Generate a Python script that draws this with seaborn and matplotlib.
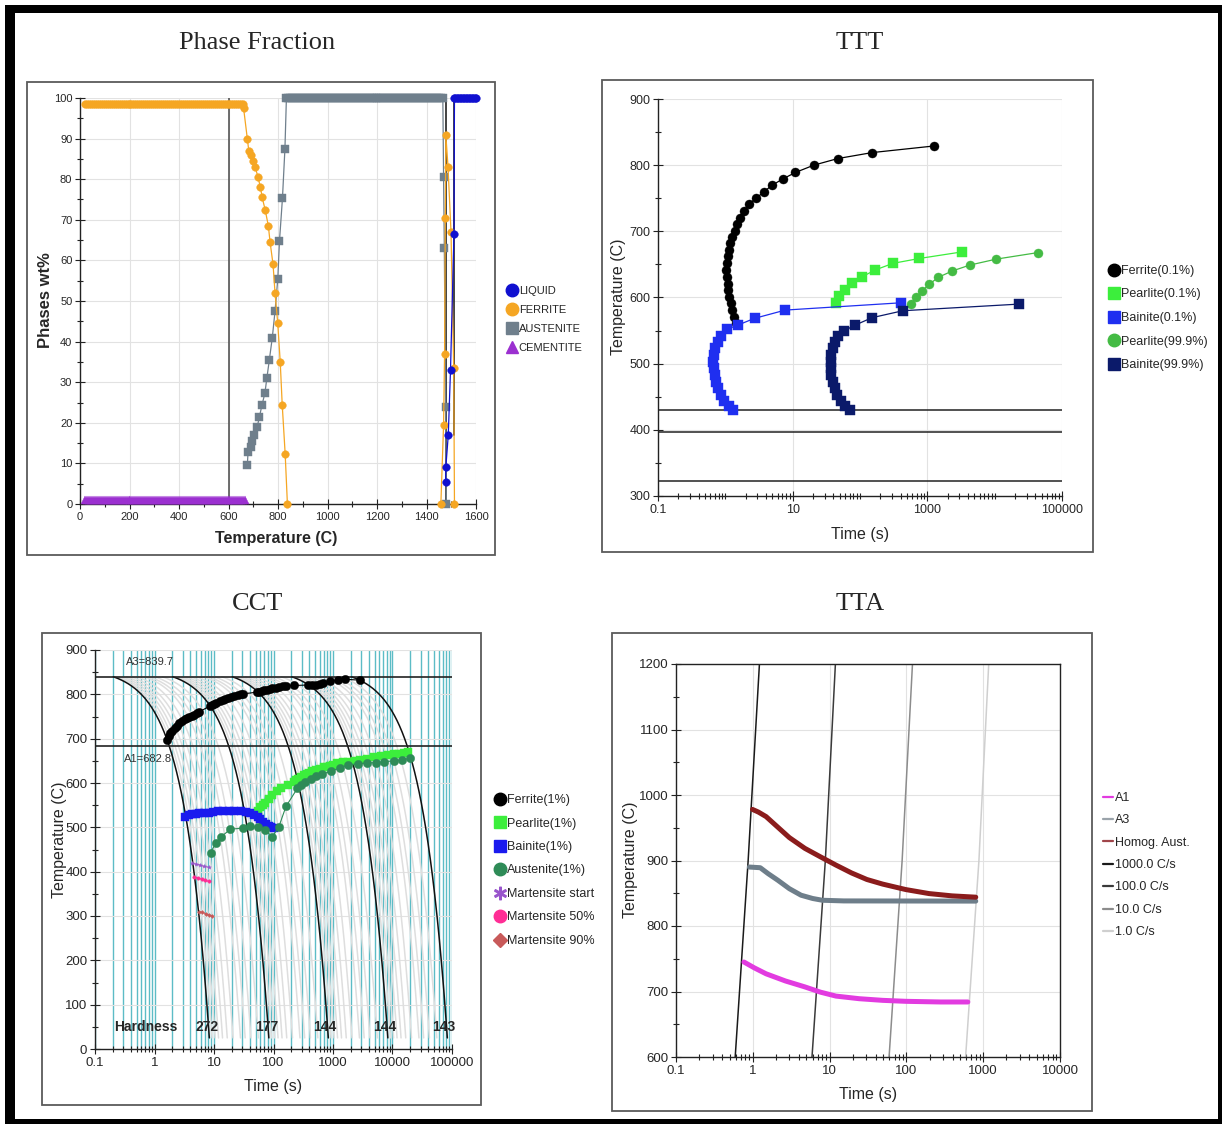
import numpy as np
import matplotlib
matplotlib.use("Agg")
import matplotlib.pyplot as plt
import seaborn as sns
from matplotlib import font_manager
from matplotlib.lines import Line2D
from matplotlib.patches import Rectangle
from matplotlib.ticker import (MultipleLocator, LogLocator, FixedLocator, NullFormatter,
                               FuncFormatter)

W, H = 1222, 1124

# -------------------------------
# Phase fraction (wt% vs temperature)
# -------------------------------
flat_T = list(range(20, 661, 8))
ferrite_T = flat_T + [661, 676, 682, 690, 699, 708, 719, 729, 736, 748, 761, 768,
                      780, 788, 799, 809, 817, 829, 838]
ferrite_wt = [98.6] * len(flat_T) + [97.5, 90, 87, 86, 84.5, 83, 80.5, 78, 75.5, 72.5,
                                     68.5, 64.5, 59, 52, 44.5, 35, 24.5, 12.3, 0]
ferrite_hi_T = [1458, 1469, 1473, 1476, 1478, 1487, 1499, 1510, 1513]
ferrite_hi_wt = [0, 19.5, 37, 70.5, 91, 83, 67, 33.5, 0]

aus_flat_T = list(range(834, 1469, 8))
aus_T = [676, 679, 689, 696, 703, 716, 725, 735, 747, 755, 765, 777, 788, 799, 806,
         818, 828] + aus_flat_T + [1469, 1472, 1477, 1480]
aus_wt = [9.5, 12.8, 14, 15.5, 17, 19, 21.5, 24.3, 27.3, 31, 35.5, 41, 47.5, 55.3,
          64.8, 75.3, 87.5] + [100] * len(aus_flat_T) + [80.5, 63, 24, 0]

liq_flat_T = list(range(1516, 1601, 6))
liq_T = [1477, 1478, 1488, 1497, 1511, 1513] + liq_flat_T
liq_wt = [5.3, 9, 17, 33, 66.5, 100] + [100] * len(liq_flat_T)

cem_T = list(range(20, 676, 8))
cem_wt = [1.0] * len(cem_T)

pf_vline_T = [600, 1477, 1512]
pf_vline_lo = [0, 0, 17]
pf_vline_hi = [100, 100, 100]
pf_vline_col = ["#555555", "#222222", "#222222"]

# -------------------------------
# TTT
# -------------------------------
ttt_ferrite_t = [1254, 151, 46.8, 20.6, 11.0, 7.08, 4.92, 3.71, 2.87, 2.25, 1.89, 1.65,
                 1.50, 1.37, 1.26, 1.18, 1.13, 1.09, 1.06, 1.04, 1.06, 1.08, 1.11, 1.15,
                 1.20, 1.26, 1.35, 1.46]
ttt_ferrite_T = [829, 819, 810, 800, 789, 779, 769.5, 759.5, 750, 741, 730, 720.5, 711,
                 701, 692, 682, 672, 662, 652, 642, 631, 621, 611, 601, 592, 581, 571, 562]
ttt_pearl1_t = [43.7, 49.3, 60.4, 75.9, 106, 168, 308, 762, 3311]
ttt_pearl1_T = [592, 602, 612, 622, 631, 641.6, 651.6, 659, 669]
ttt_bain1_t = [1.29, 1.12, 0.964, 0.853, 0.788, 0.736, 0.697, 0.669, 0.661, 0.669, 0.706,
               0.766, 0.877, 1.06, 1.55, 2.72, 7.78, 405]
ttt_bain1_T = [430, 436, 443, 453, 463, 473, 483, 493, 503, 513, 523, 533, 542, 552,
               558.5, 568.5, 581, 592]
ttt_pearl9_t = [574, 684, 837, 1067, 1455, 2333, 4275, 10550, 44668]
ttt_pearl9_T = [590, 600, 610, 620, 630.5, 640, 649, 658, 668]
ttt_bain9_t = [70.0, 60.4, 52.7, 46.1, 42.0, 39.2, 37.7, 36.7, 36.7, 37.7, 39.2, 42.0,
               47.4, 58.7, 85.7, 151, 433, 22750]
ttt_bain9_T = [430, 436, 444, 453, 463, 473, 483, 493, 503, 513, 523, 533, 542, 550,
               558.5, 569.5, 580, 590]
ttt_hlines = [430, 397, 322]
ttt_xticks = [0.1, 10, 1000, 100000]

# -------------------------------
# CCT
# -------------------------------
A3, A1 = 839.7, 682.8
cct_start_T, cct_room_T = 860, 25
cct_black_rates = [100, 10, 1, 0.1, 0.01]
cct_gray_fracs = [0.9, 0.8, 0.7, 0.6, 0.5, 0.4, 0.3, 0.25, 0.2, 0.15]
hardness_t = [7.6, 77, 730, 7400, 73000]
hardness_vals = ["272", "177", "144", "144", "143"]

cct_ferrite_t = [1.62, 1.75, 1.85, 2.0, 2.2, 2.4, 2.6, 2.9, 3.2, 3.5, 3.8, 4.2, 4.6, 5.1,
                 5.7, 8.7, 9.3, 10, 11, 12.5, 14, 15.4, 17, 19, 22, 25, 28, 31, 53, 58,
                 63, 70, 78, 86, 95, 110, 125, 145, 165, 220, 380, 450, 510, 600, 680,
                 900, 1200, 1600, 2800]
cct_ferrite_T = [697, 705, 712, 717, 723, 729, 735, 740, 744, 747, 750, 751, 753, 757,
                 761, 774, 776, 778, 781, 785, 788, 790, 792, 795, 797, 798, 800, 801,
                 805, 806, 808, 809, 810, 812, 814, 815, 817, 818, 819, 820, 821, 821,
                 822, 823, 825, 829, 832, 834, 832]
cct_pearl_t = [54, 60, 66, 72, 85, 96, 115, 136, 175, 221, 240, 260, 293, 330, 360, 400,
               449, 520, 600, 700, 785, 900, 1000, 1190, 1500, 1810, 2300, 2800, 3700,
               4880, 6500, 8450, 10500, 12800, 15500, 18000]
cct_pearl_T = [536, 545, 550, 554, 565, 573, 581, 588, 596, 603, 606, 609, 614, 617, 620,
               623, 626, 629, 632, 635, 637, 639, 641, 645, 647, 648, 650, 652, 655,
               658, 660, 663, 665, 666, 668, 669]
cct_bain_t = [3.27, 3.8, 4.3, 5.0, 5.7, 6.8, 8.1, 9.7, 11.6, 14, 17.7, 22, 28.8, 35,
              40.9, 47, 54.3, 60, 67, 75, 83, 92, 103]
cct_bain_T = [524, 527, 530, 531, 532, 533, 533, 534, 536, 536, 536, 536, 536, 534,
              532, 528, 524, 519, 513, 508, 503, 500, 498]
cct_aus_t = [8.74, 10.7, 13.3, 18.9, 30.8, 40.9, 54.3, 71.6, 95.6, 122, 162, 252, 290,
             333, 420, 510, 650, 910, 1300, 1810, 2600, 3700, 5200, 7300, 10500, 14700,
             19600]
cct_aus_T = [443, 464, 479, 496, 498, 502, 500, 494, 479, 500, 547, 588, 596, 603, 609,
             615, 620, 626, 634, 641, 643, 645, 646, 648, 650, 652, 656]
cct_ms_t = [4.3, 5.0, 5.8, 6.8, 8.1]
cct_ms_T = [419, 417, 415, 412, 410]
cct_m50_t = [4.6, 5.3, 6.2, 7.1, 8.1]
cct_m50_T = [388, 386, 383, 381, 378]
cct_m90_t = [5.7, 6.4, 7.3, 8.3, 9.4]
cct_m90_T = [310, 308, 305, 302, 300]

# -------------------------------
# TTA
# -------------------------------
tta_A1_t = [0.767, 1.05, 1.49, 2.67, 4.77, 7.6, 12.1, 24.3, 49, 98.4, 280, 631]
tta_A1_T = [745, 736, 727, 716, 707, 699, 693, 689, 686.5, 685, 684, 684]
tta_A3_t = [0.90, 1.25, 1.58, 2.11, 2.99, 4.25, 6.02, 8.05, 15.3, 800]
tta_A3_T = [890, 889, 880, 870, 857, 847, 842, 839.3, 838.3, 838]
tta_hom_t = [0.99, 1.18, 1.49, 2.11, 2.99, 4.77, 7.6, 12.1, 19.3, 30.6, 49, 98.4, 197,
             393, 800]
tta_hom_T = [978, 974, 967, 951, 935, 918.5, 905.6, 893, 881, 871, 864, 855.6, 849.5,
             846, 844]
tta_rate_labels = ["1000.0 C/s", "100.0 C/s", "10.0 C/s", "1.0 C/s"]
tta_rate_colors = ["#1a1a1a", "#3a3a3a", "#8c8c8c", "#cfcfcf"]
tta_heat_t = [[0.59, 0.87, 1.22], [5.9, 8.8, 11.9], [59.5, 88, 120], [590, 880, 1180]]
tta_heat_T = [600, 900, 1200]

# -------------------------------
# Style
# -------------------------------
sns.set_theme(style="white")
names = {f.name for f in font_manager.fontManager.ttflist}
NARROW = "Liberation Sans Narrow" if "Liberation Sans Narrow" in names else "Liberation Sans"
plt.rcParams["font.family"] = ["Liberation Sans", "DejaVu Sans"]

fig = plt.figure(figsize=(W / 100, H / 100), dpi=100)


def px_axes(x0, y0, x1, y1):
    return fig.add_axes([x0 / W, 1 - y1 / H, (x1 - x0) / W, (y1 - y0) / H])


def ftext(x, y, s, **kw):
    fig.text(x / W, 1 - y / H, s, ha="center", va="center", **kw)


def series(ax, x, y, color, marker, ms, lw=0.9, z=3, **kw):
    sns.lineplot(x=x, y=y, ax=ax, color=color, marker=marker, markersize=ms,
                 markeredgecolor=color, markeredgewidth=0.3, linewidth=lw,
                 sort=False, estimator=None, zorder=z, **kw)


def style_axes(ax, fs, box=False):
    for side in ["top", "right"]:
        ax.spines[side].set_visible(box)
    for sp in ax.spines.values():
        sp.set_color("#222222")
        sp.set_linewidth(1.0)
    ax.tick_params(which="both", direction="inout", color="#222222", width=0.8,
                   labelsize=fs, pad=2, bottom=True, left=True)
    ax.tick_params(which="major", length=7)
    ax.tick_params(which="minor", length=5)
    for lab in ax.get_xticklabels() + ax.get_yticklabels():
        lab.set_family(NARROW)
    ax.set_xlabel("")
    ax.set_ylabel("")


def log_axis(ax, majors=None):
    ax.set_xscale("log")
    if majors is None:
        ax.xaxis.set_major_locator(LogLocator(base=10, numticks=20))
    else:
        ax.xaxis.set_major_locator(FixedLocator(majors))
    ax.xaxis.set_minor_locator(LogLocator(base=10, subs=np.arange(1, 10), numticks=100))
    ax.xaxis.set_minor_formatter(NullFormatter())
    ax.xaxis.set_major_formatter(FuncFormatter(lambda v, p: f"{v:g}"))


def legend(ax, handles, labels, x, y, fs, spacing, hl=0.9):
    leg = ax.legend(handles, labels, loc="upper left", bbox_to_anchor=(x / W, 1 - y / H),
                    bbox_transform=fig.transFigure, frameon=False, borderpad=0,
                    borderaxespad=0, handlelength=hl, handletextpad=0.15,
                    labelspacing=spacing, prop={"family": NARROW, "size": fs})
    return leg


def mk(marker, color, ms=9):
    return Line2D([], [], marker=marker, color=color, ls="", markersize=ms,
                  markeredgecolor=color)


grid_col = "#e2e2e2"

# -------------------------------
# 1. Phase Fraction
# -------------------------------
ax1 = px_axes(80, 98, 476, 504)
ax1.set_xlim(0, 1600)
ax1.set_ylim(0, 100)
ax1.xaxis.set_major_locator(MultipleLocator(200))
ax1.xaxis.set_minor_locator(MultipleLocator(100))
ax1.yaxis.set_major_locator(MultipleLocator(10))
ax1.yaxis.set_minor_locator(MultipleLocator(5))
ax1.grid(True, which="major", color=grid_col, lw=0.8)
ax1.set_axisbelow(True)
for xv, lo, hi, c in zip(pf_vline_T, pf_vline_lo, pf_vline_hi, pf_vline_col):
    ax1.plot([xv, xv], [lo, hi], color=c, lw=1.2, zorder=2)
series(ax1, cem_T, cem_wt, "#9b30d0", "^", 5.5, clip_on=False)
series(ax1, aus_T, aus_wt, "#6f7f8c", "s", 5.5, clip_on=False)
series(ax1, ferrite_T, ferrite_wt, "#f5a623", "o", 5.5, clip_on=False)
series(ax1, ferrite_hi_T, ferrite_hi_wt, "#f5a623", "o", 5.5, clip_on=False)
series(ax1, liq_T, liq_wt, "#1010d0", "o", 5.5, clip_on=False)
style_axes(ax1, 8)
legend(ax1, [mk("o", "#1010d0"), mk("o", "#f5a623"), mk("s", "#6f7f8c"), mk("^", "#9b30d0")],
       ["LIQUID", "FERRITE", "AUSTENITE", "CEMENTITE"], 507, 286, 8, 0.8)
ftext(276, 538, "Temperature (C)", fontsize=11.5, fontweight="bold")
ftext(45, 300, "Phases wt%", fontsize=12, fontweight="bold", rotation=90)

# -------------------------------
# 2. TTT
# -------------------------------
ax2 = px_axes(658, 99, 1062, 496)
log_axis(ax2, ttt_xticks)
ax2.set_xlim(0.1, 1e5)
ax2.set_ylim(300, 900)
ax2.yaxis.set_major_locator(MultipleLocator(100))
ax2.yaxis.set_minor_locator(MultipleLocator(50))
ax2.grid(True, which="major", color=grid_col, lw=0.8)
ax2.set_axisbelow(True)
for yv in ttt_hlines:
    ax2.axhline(yv, color="#222222", lw=1.1, zorder=2)
series(ax2, ttt_ferrite_t, ttt_ferrite_T, "#000000", "o", 6.5)
series(ax2, ttt_pearl1_t, ttt_pearl1_T, "#3cee3c", "s", 6.5)
series(ax2, ttt_bain1_t, ttt_bain1_T, "#1f2ff0", "s", 6.5)
series(ax2, ttt_pearl9_t, ttt_pearl9_T, "#44bb44", "o", 6.5)
series(ax2, ttt_bain9_t, ttt_bain9_T, "#0b1a6a", "s", 6.5)
style_axes(ax2, 9)
legend(ax2, [mk("o", "#000000"), mk("s", "#3cee3c"), mk("s", "#1f2ff0"), mk("o", "#44bb44"),
             mk("s", "#0b1a6a")],
       ["Ferrite(0.1%)", "Pearlite(0.1%)", "Bainite(0.1%)", "Pearlite(99.9%)", "Bainite(99.9%)"],
       1108, 265, 9, 0.92)
ftext(618, 297, "Temperature (C)", fontsize=11.5, rotation=90)
ftext(860, 534, "Time (s)", fontsize=11.5)

# -------------------------------
# 3. CCT
# -------------------------------
ax3 = px_axes(95, 650, 452, 1049)
log_axis(ax3)
ax3.set_xlim(0.1, 1e5)
ax3.set_ylim(0, 900)
ax3.yaxis.set_major_locator(MultipleLocator(100))
ax3.yaxis.set_minor_locator(MultipleLocator(50))
ax3.grid(True, which="major", axis="y", color=grid_col, lw=0.8, zorder=0)
ax3.grid(True, which="both", axis="x", color="#5cbcc6", lw=1.0, zorder=0)
ax3.set_axisbelow(True)
for r in cct_black_rates[:-1]:
    for f in cct_gray_fracs:
        rr = r * f
        t = np.geomspace((cct_start_T - A3) / rr, (cct_start_T - cct_room_T) / rr, 300)
        ax3.plot(t, cct_start_T - rr * t, color="#dedede", lw=1.1, zorder=1)
for r in cct_black_rates:
    t = np.geomspace((cct_start_T - A3) / r, (cct_start_T - cct_room_T) / r, 300)
    ax3.plot(t, cct_start_T - r * t, color="#111111", lw=1.1, zorder=2)
ax3.axhline(A3, color="#222222", lw=1.2, zorder=2)
ax3.axhline(A1, color="#222222", lw=1.2, zorder=2)
ax3.text(0.33, 872, f"A3={A3}", fontsize=8, color="#333333", va="center", family=NARROW)
ax3.text(0.31, 654, f"A1={A1}", fontsize=8, color="#333333", va="center", family=NARROW)
ax3.text(0.71, 49, "Hardness", fontsize=10, fontweight="bold", ha="center", va="center",
         family=NARROW, zorder=5)
for tv, hv in zip(hardness_t, hardness_vals):
    ax3.text(tv, 49, hv, fontsize=10, fontweight="bold", ha="center", va="center",
             family=NARROW, zorder=5)
series(ax3, cct_ferrite_t, cct_ferrite_T, "#000000", "o", 6.0, lw=0.8)
series(ax3, cct_pearl_t, cct_pearl_T, "#3cee3c", "s", 6.0, lw=0.8)
series(ax3, cct_bain_t, cct_bain_T, "#1a1aee", "s", 6.0, lw=0.8)
series(ax3, cct_aus_t, cct_aus_T, "#2e8b57", "o", 6.0, lw=0.8)
series(ax3, cct_ms_t, cct_ms_T, "#9955cc", "*", 3.0, lw=0.8)
series(ax3, cct_m50_t, cct_m50_T, "#ff2d95", "o", 2.5, lw=0.8)
series(ax3, cct_m90_t, cct_m90_T, "#c85a5a", "D", 2.0, lw=0.8)
style_axes(ax3, 9.5)
legend(ax3, [mk("o", "#000000"), mk("s", "#3cee3c"), mk("s", "#1a1aee"), mk("o", "#2e8b57"),
             mk("$\\ast$", "#9955cc"), mk("o", "#ff2d95"), mk("D", "#c85a5a", 7)],
       ["Ferrite(1%)", "Pearlite(1%)", "Bainite(1%)", "Austenite(1%)", "Martensite start",
        "Martensite 50%", "Martensite 90%"], 494, 794, 9, 0.92)
ftext(60, 840, "Temperature (C)", fontsize=11.5, rotation=90)
ftext(273, 1087, "Time (s)", fontsize=11.5)

# -------------------------------
# 4. TTA
# -------------------------------
ax4 = px_axes(676, 664, 1060, 1057)
log_axis(ax4)
ax4.set_xlim(0.1, 1e4)
ax4.set_ylim(600, 1200)
ax4.yaxis.set_major_locator(MultipleLocator(100))
ax4.yaxis.set_minor_locator(MultipleLocator(50))
ax4.grid(True, which="major", color=grid_col, lw=0.8)
ax4.set_axisbelow(True)
for tt, c in zip(tta_heat_t, tta_rate_colors):
    sns.lineplot(x=tt, y=tta_heat_T, ax=ax4, color=c, lw=1.1, sort=False, estimator=None,
                 zorder=2)
series(ax4, tta_A1_t, tta_A1_T, "#e23be0", None, 0, lw=3.6)
series(ax4, tta_A3_t, tta_A3_T, "#6e7e8a", None, 0, lw=3.6)
series(ax4, tta_hom_t, tta_hom_T, "#8b1c1c", None, 0, lw=3.6)
style_axes(ax4, 9.5, box=True)
line_h = [Line2D([], [], color=c, lw=1.6) for c in ["#e23be0", "#9aa3aa", "#a0454a"] + tta_rate_colors]
legend(ax4, line_h, ["A1", "A3", "Homog. Aust."] + tta_rate_labels, 1103, 792, 9, 0.83, hl=0.8)
ftext(630, 860, "Temperature (C)", fontsize=11.5, rotation=90)
ftext(868, 1094, "Time (s)", fontsize=11.5)

# -------------------------------
# Titles, frames, border
# -------------------------------
for (x, y, s) in [(257, 43, "Phase Fraction"), (860, 43, "TTT"), (258, 604, "CCT"),
                  (860, 604, "TTA")]:
    ftext(x, y, s, fontsize=19, family=["Liberation Serif", "DejaVu Serif"])

for (x0, y0, x1, y1) in [(27, 82, 495, 555), (602, 80, 1093, 552), (42, 633, 481, 1105),
                         (612, 633, 1092, 1111)]:
    fig.add_artist(Rectangle((x0 / W, 1 - y1 / H), (x1 - x0) / W, (y1 - y0) / H,
                             transform=fig.transFigure, fill=False, ec="#5a5a5a", lw=1.3))

for (x0, y0, x1, y1) in [(5, 5, 1222, 13), (5, 5, 15, 1124), (1218, 5, 1222, 1124),
                         (5, 1119, 1222, 1124)]:
    fig.add_artist(Rectangle((x0 / W, 1 - y1 / H), (x1 - x0) / W, (y1 - y0) / H,
                             transform=fig.transFigure, fc="black", ec="none"))

fig.savefig("out.png", dpi=100)
